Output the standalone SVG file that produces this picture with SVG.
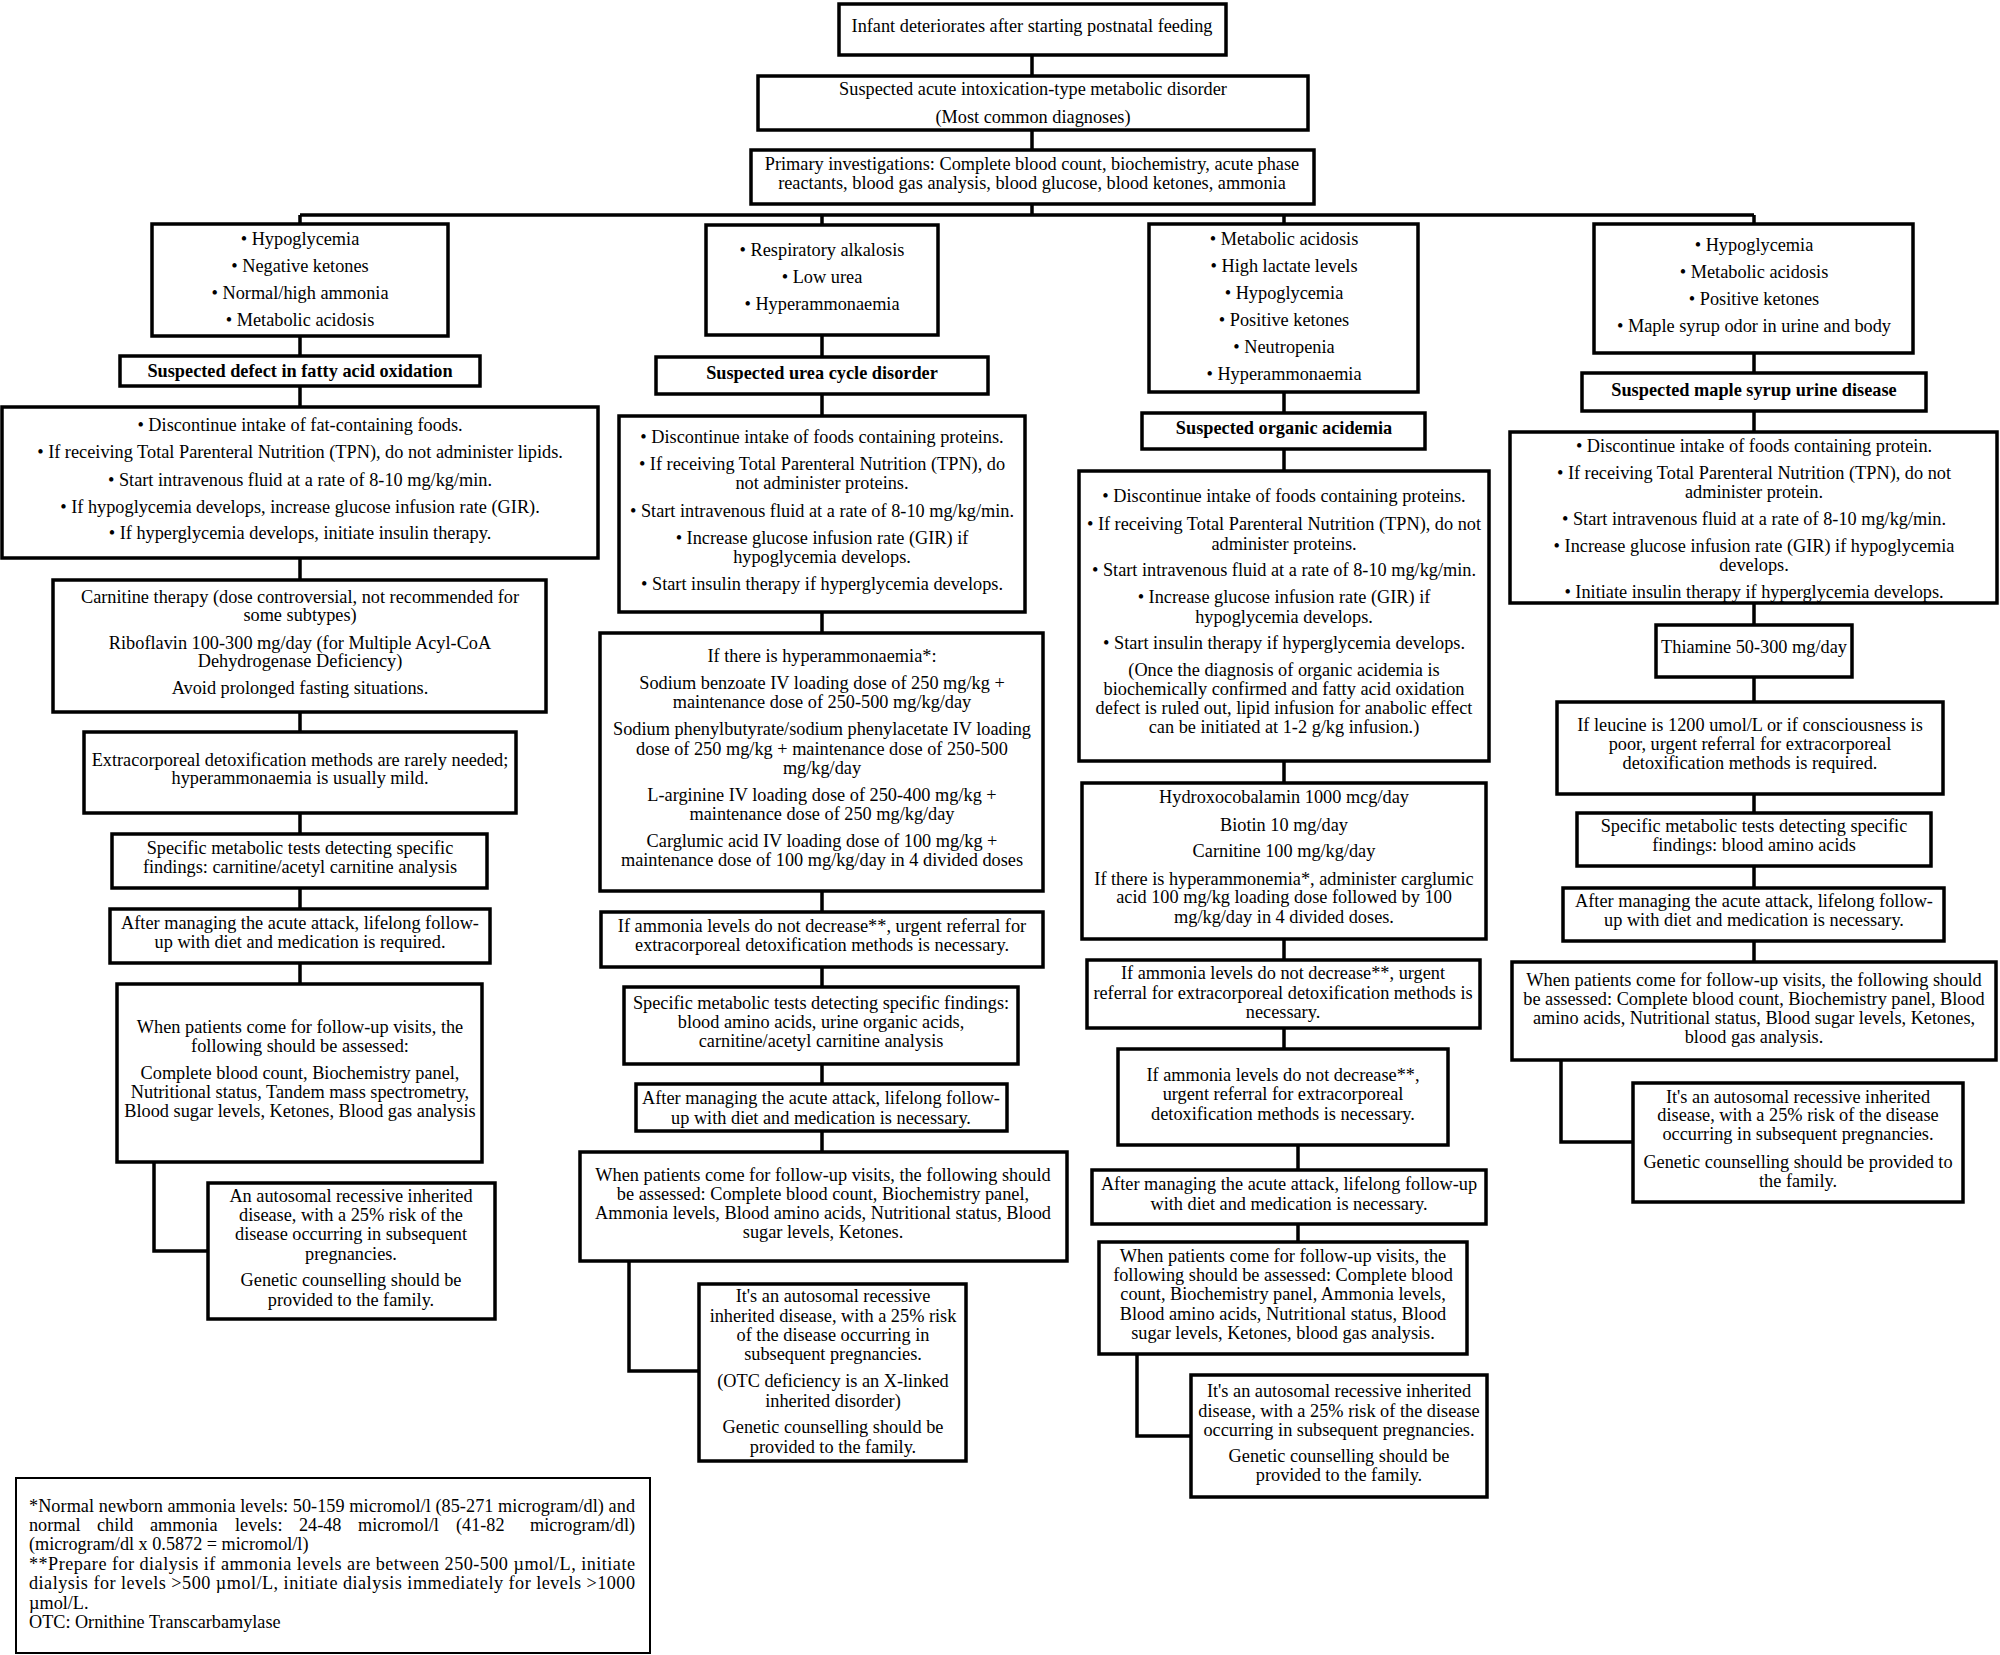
<svg xmlns="http://www.w3.org/2000/svg" width="2000" height="1655" viewBox="0 0 2000 1655">
<style>
.box{fill:#fff;stroke:#000;stroke-width:3.5}
.t{font-family:"Liberation Serif","Times New Roman",serif;font-size:18.3px;text-anchor:middle;fill:#000}
.b{font-weight:bold}
.f{font-family:"Liberation Serif","Times New Roman",serif;font-size:18.2px;text-anchor:start;fill:#000}
.c{fill:none;stroke:#000;stroke-width:3.5}
</style>
<rect x="0" y="0" width="2000" height="1655" fill="#fff"/>
<g id="connectors">
<path class="c" d="M1032 55V76M1032 130V150M1032 204V215M300 215H1754M300 215V224M822 215V225M1284 215V224M1754 215V224"/>
<path class="c" d="M300 336V356M300 386V407M300 558V580M300 712V732M300 813V834M300 888V909M300 963V984M154 1162V1251H208"/>
<path class="c" d="M822 335V357M822 394V416M822 612V633M822 891V912M822 967V987M822 1064V1084M822 1131V1152M629 1261V1371H699"/>
<path class="c" d="M1284 392V413M1284 449V471M1284 761V783M1284 939V960M1284 1028V1049M1298 1145V1170M1298 1224V1242M1137 1354V1436H1191"/>
<path class="c" d="M1754 353V373M1754 411V432M1754 603V625M1754 677V702M1754 794V813M1754 866V888M1754 941V962M1561 1060V1142H1633"/>
</g>
<g id="n-start"><rect class="box" x="839" y="4" width="387" height="51"/><text class="t" x="1032" y="32">Infant deteriorates after starting postnatal feeding</text></g>
<g id="n-suspected"><rect class="box" x="758" y="76" width="550" height="54"/><text class="t"><tspan x="1033" y="95">Suspected acute intoxication-type metabolic disorder</tspan><tspan x="1033" y="123">(Most common diagnoses)</tspan></text></g>
<g id="n-primary"><rect class="box" x="751" y="150" width="563" height="54"/><text class="t"><tspan x="1032" y="170">Primary investigations: Complete blood count, biochemistry, acute phase</tspan><tspan x="1032" y="189">reactants, blood gas analysis, blood glucose, blood ketones, ammonia</tspan></text></g>

<g id="n-fao-symptoms"><rect class="box" x="152" y="224" width="296" height="112"/><text class="t"><tspan x="300" y="245">• Hypoglycemia</tspan><tspan x="300" y="272">• Negative ketones</tspan><tspan x="300" y="299">• Normal/high ammonia</tspan><tspan x="300" y="326">• Metabolic acidosis</tspan></text></g>
<g id="n-fao"><rect class="box" x="120" y="356" width="360" height="30"/><text class="t b" x="300" y="377">Suspected defect in fatty acid oxidation</text></g>
<g id="n-fao-1"><rect class="box" x="2" y="407" width="596" height="151"/><text class="t"><tspan x="300" y="431">• Discontinue intake of fat-containing foods.</tspan><tspan x="300" y="458">• If receiving Total Parenteral Nutrition (TPN), do not administer lipids.</tspan><tspan x="300" y="486">• Start intravenous fluid at a rate of 8-10 mg/kg/min.</tspan><tspan x="300" y="513">• If hypoglycemia develops, increase glucose infusion rate (GIR).</tspan><tspan x="300" y="539">• If hyperglycemia develops, initiate insulin therapy.</tspan></text></g>
<g id="n-fao-2"><rect class="box" x="53" y="580" width="493" height="132"/><text class="t"><tspan x="300" y="603">Carnitine therapy (dose controversial, not recommended for</tspan><tspan x="300" y="621">some subtypes)</tspan><tspan x="300" y="649">Riboflavin 100-300 mg/day (for Multiple Acyl-CoA</tspan><tspan x="300" y="667">Dehydrogenase Deficiency)</tspan><tspan x="300" y="694">Avoid prolonged fasting situations.</tspan></text></g>
<g id="n-fao-3"><rect class="box" x="84" y="732" width="432" height="81"/><text class="t"><tspan x="300" y="766">Extracorporeal detoxification methods are rarely needed;</tspan><tspan x="300" y="784">hyperammonaemia is usually mild.</tspan></text></g>
<g id="n-fao-4"><rect class="box" x="112" y="834" width="375" height="54"/><text class="t"><tspan x="300" y="854">Specific metabolic tests detecting specific</tspan><tspan x="300" y="873">findings: carnitine/acetyl carnitine analysis</tspan></text></g>
<g id="n-fao-5"><rect class="box" x="110" y="909" width="380" height="54"/><text class="t"><tspan x="300" y="929">After managing the acute attack, lifelong follow-</tspan><tspan x="300" y="948">up with diet and medication is required.</tspan></text></g>
<g id="n-fao-6"><rect class="box" x="117" y="984" width="365" height="178"/><text class="t"><tspan x="300" y="1033">When patients come for follow-up visits, the</tspan><tspan x="300" y="1052">following should be assessed:</tspan><tspan x="300" y="1079">Complete blood count, Biochemistry panel,</tspan><tspan x="300" y="1098">Nutritional status, Tandem mass spectrometry,</tspan><tspan x="300" y="1117">Blood sugar levels, Ketones, Blood gas analysis</tspan></text></g>
<g id="n-fao-7"><rect class="box" x="208" y="1183" width="287" height="136"/><text class="t"><tspan x="351" y="1202">An autosomal recessive inherited</tspan><tspan x="351" y="1221">disease, with a 25% risk of the</tspan><tspan x="351" y="1240">disease occurring in subsequent</tspan><tspan x="351" y="1260">pregnancies.</tspan><tspan x="351" y="1286">Genetic counselling should be</tspan><tspan x="351" y="1306">provided to the family.</tspan></text></g>

<g id="n-ucd-symptoms"><rect class="box" x="706" y="225" width="232" height="110"/><text class="t"><tspan x="822" y="256">• Respiratory alkalosis</tspan><tspan x="822" y="283">• Low urea</tspan><tspan x="822" y="310">• Hyperammonaemia</tspan></text></g>
<g id="n-ucd"><rect class="box" x="656" y="357" width="332" height="37"/><text class="t b" x="822" y="379">Suspected urea cycle disorder</text></g>
<g id="n-ucd-1"><rect class="box" x="619" y="416" width="406" height="196"/><text class="t"><tspan x="822" y="443">• Discontinue intake of foods containing proteins.</tspan><tspan x="822" y="470">• If receiving Total Parenteral Nutrition (TPN), do</tspan><tspan x="822" y="489">not administer proteins.</tspan><tspan x="822" y="517">• Start intravenous fluid at a rate of 8-10 mg/kg/min.</tspan><tspan x="822" y="544">• Increase glucose infusion rate (GIR) if</tspan><tspan x="822" y="563">hypoglycemia develops.</tspan><tspan x="822" y="590">• Start insulin therapy if hyperglycemia develops.</tspan></text></g>
<g id="n-ucd-2"><rect class="box" x="600" y="633" width="443" height="258"/><text class="t"><tspan x="822" y="662">If there is hyperammonaemia*:</tspan><tspan x="822" y="689">Sodium benzoate IV loading dose of 250 mg/kg +</tspan><tspan x="822" y="708">maintenance dose of 250-500 mg/kg/day</tspan><tspan x="822" y="735">Sodium phenylbutyrate/sodium phenylacetate IV loading</tspan><tspan x="822" y="755">dose of 250 mg/kg + maintenance dose of 250-500</tspan><tspan x="822" y="774">mg/kg/day</tspan><tspan x="822" y="801">L-arginine IV loading dose of 250-400 mg/kg +</tspan><tspan x="822" y="820">maintenance dose of 250 mg/kg/day</tspan><tspan x="822" y="847">Carglumic acid IV loading dose of 100 mg/kg +</tspan><tspan x="822" y="866">maintenance dose of 100 mg/kg/day in 4 divided doses</tspan></text></g>
<g id="n-ucd-3"><rect class="box" x="601" y="912" width="442" height="55"/><text class="t"><tspan x="822" y="932">If ammonia levels do not decrease**, urgent referral for</tspan><tspan x="822" y="951">extracorporeal detoxification methods is necessary.</tspan></text></g>
<g id="n-ucd-4"><rect class="box" x="624" y="987" width="394" height="77"/><text class="t"><tspan x="821" y="1009">Specific metabolic tests detecting specific findings:</tspan><tspan x="821" y="1028">blood amino acids, urine organic acids,</tspan><tspan x="821" y="1047">carnitine/acetyl carnitine analysis</tspan></text></g>
<g id="n-ucd-5"><rect class="box" x="636" y="1084" width="371" height="47"/><text class="t"><tspan x="821" y="1104">After managing the acute attack, lifelong follow-</tspan><tspan x="821" y="1124">up with diet and medication is necessary.</tspan></text></g>
<g id="n-ucd-6"><rect class="box" x="580" y="1152" width="487" height="109"/><text class="t"><tspan x="823" y="1181">When patients come for follow-up visits, the following should</tspan><tspan x="823" y="1200">be assessed: Complete blood count, Biochemistry panel,</tspan><tspan x="823" y="1219">Ammonia levels, Blood amino acids, Nutritional status, Blood</tspan><tspan x="823" y="1238">sugar levels, Ketones.</tspan></text></g>
<g id="n-ucd-7"><rect class="box" x="699" y="1284" width="267" height="177"/><text class="t"><tspan x="833" y="1302">It's an autosomal recessive</tspan><tspan x="833" y="1322">inherited disease, with a 25% risk</tspan><tspan x="833" y="1341">of the disease occurring in</tspan><tspan x="833" y="1360">subsequent pregnancies.</tspan><tspan x="833" y="1387">(OTC deficiency is an X-linked</tspan><tspan x="833" y="1407">inherited disorder)</tspan><tspan x="833" y="1433">Genetic counselling should be</tspan><tspan x="833" y="1453">provided to the family.</tspan></text></g>

<g id="n-oa-symptoms"><rect class="box" x="1149" y="224" width="269" height="168"/><text class="t"><tspan x="1284" y="245">• Metabolic acidosis</tspan><tspan x="1284" y="272">• High lactate levels</tspan><tspan x="1284" y="299">• Hypoglycemia</tspan><tspan x="1284" y="326">• Positive ketones</tspan><tspan x="1284" y="353">• Neutropenia</tspan><tspan x="1284" y="380">• Hyperammonaemia</tspan></text></g>
<g id="n-oa"><rect class="box" x="1142" y="413" width="283" height="36"/><text class="t b" x="1284" y="434">Suspected organic acidemia</text></g>
<g id="n-oa-1"><rect class="box" x="1079" y="471" width="410" height="290"/><text class="t"><tspan x="1284" y="502">• Discontinue intake of foods containing proteins.</tspan><tspan x="1284" y="530">• If receiving Total Parenteral Nutrition (TPN), do not</tspan><tspan x="1284" y="550">administer proteins.</tspan><tspan x="1284" y="576">• Start intravenous fluid at a rate of 8-10 mg/kg/min.</tspan><tspan x="1284" y="603">• Increase glucose infusion rate (GIR) if</tspan><tspan x="1284" y="623">hypoglycemia develops.</tspan><tspan x="1284" y="649">• Start insulin therapy if hyperglycemia develops.</tspan><tspan x="1284" y="676">(Once the diagnosis of organic acidemia is</tspan><tspan x="1284" y="695">biochemically confirmed and fatty acid oxidation</tspan><tspan x="1284" y="714">defect is ruled out, lipid infusion for anabolic effect</tspan><tspan x="1284" y="733">can be initiated at 1-2 g/kg infusion.)</tspan></text></g>
<g id="n-oa-2"><rect class="box" x="1082" y="783" width="404" height="156"/><text class="t"><tspan x="1284" y="803">Hydroxocobalamin 1000 mcg/day</tspan><tspan x="1284" y="831">Biotin 10 mg/day</tspan><tspan x="1284" y="857">Carnitine 100 mg/kg/day</tspan><tspan x="1284" y="885">If there is hyperammonemia*, administer carglumic</tspan><tspan x="1284" y="903">acid 100 mg/kg loading dose followed by 100</tspan><tspan x="1284" y="923">mg/kg/day in 4 divided doses.</tspan></text></g>
<g id="n-oa-3"><rect class="box" x="1087" y="960" width="393" height="68"/><text class="t"><tspan x="1283" y="979">If ammonia levels do not decrease**, urgent</tspan><tspan x="1283" y="999">referral for extracorporeal detoxification methods is</tspan><tspan x="1283" y="1018">necessary.</tspan></text></g>
<g id="n-oa-4"><rect class="box" x="1118" y="1049" width="330" height="96"/><text class="t"><tspan x="1283" y="1081">If ammonia levels do not decrease**,</tspan><tspan x="1283" y="1100">urgent referral for extracorporeal</tspan><tspan x="1283" y="1120">detoxification methods is necessary.</tspan></text></g>
<g id="n-oa-5"><rect class="box" x="1092" y="1170" width="394" height="54"/><text class="t"><tspan x="1289" y="1190">After managing the acute attack, lifelong follow-up</tspan><tspan x="1289" y="1210">with diet and medication is necessary.</tspan></text></g>
<g id="n-oa-6"><rect class="box" x="1099" y="1242" width="368" height="112"/><text class="t"><tspan x="1283" y="1262">When patients come for follow-up visits, the</tspan><tspan x="1283" y="1281">following should be assessed: Complete blood</tspan><tspan x="1283" y="1300">count, Biochemistry panel, Ammonia levels,</tspan><tspan x="1283" y="1320">Blood amino acids, Nutritional status, Blood</tspan><tspan x="1283" y="1339">sugar levels, Ketones, blood gas analysis.</tspan></text></g>
<g id="n-oa-7"><rect class="box" x="1191" y="1375" width="296" height="122"/><text class="t"><tspan x="1339" y="1397">It's an autosomal recessive inherited</tspan><tspan x="1339" y="1417">disease, with a 25% risk of the disease</tspan><tspan x="1339" y="1436">occurring in subsequent pregnancies.</tspan><tspan x="1339" y="1462">Genetic counselling should be</tspan><tspan x="1339" y="1481">provided to the family.</tspan></text></g>

<g id="n-msud-symptoms"><rect class="box" x="1594" y="224" width="319" height="129"/><text class="t"><tspan x="1754" y="251">• Hypoglycemia</tspan><tspan x="1754" y="278">• Metabolic acidosis</tspan><tspan x="1754" y="305">• Positive ketones</tspan><tspan x="1754" y="332">• Maple syrup odor in urine and body</tspan></text></g>
<g id="n-msud"><rect class="box" x="1582" y="373" width="344" height="38"/><text class="t b" x="1754" y="396">Suspected maple syrup urine disease</text></g>
<g id="n-msud-1"><rect class="box" x="1510" y="432" width="487" height="171"/><text class="t"><tspan x="1754" y="452">• Discontinue intake of foods containing protein.</tspan><tspan x="1754" y="479">• If receiving Total Parenteral Nutrition (TPN), do not</tspan><tspan x="1754" y="498">administer protein.</tspan><tspan x="1754" y="525">• Start intravenous fluid at a rate of 8-10 mg/kg/min.</tspan><tspan x="1754" y="552">• Increase glucose infusion rate (GIR) if hypoglycemia</tspan><tspan x="1754" y="571">develops.</tspan><tspan x="1754" y="598">• Initiate insulin therapy if hyperglycemia develops.</tspan></text></g>
<g id="n-msud-2"><rect class="box" x="1656" y="625" width="196" height="52"/><text class="t" x="1754" y="653">Thiamine 50-300 mg/day</text></g>
<g id="n-msud-3"><rect class="box" x="1557" y="702" width="386" height="92"/><text class="t"><tspan x="1750" y="731">If leucine is 1200 umol/L or if consciousness is</tspan><tspan x="1750" y="750">poor, urgent referral for extracorporeal</tspan><tspan x="1750" y="769">detoxification methods is required.</tspan></text></g>
<g id="n-msud-4"><rect class="box" x="1577" y="813" width="354" height="53"/><text class="t"><tspan x="1754" y="832">Specific metabolic tests detecting specific</tspan><tspan x="1754" y="851">findings: blood amino acids</tspan></text></g>
<g id="n-msud-5"><rect class="box" x="1563" y="888" width="381" height="53"/><text class="t"><tspan x="1754" y="907">After managing the acute attack, lifelong follow-</tspan><tspan x="1754" y="926">up with diet and medication is necessary.</tspan></text></g>
<g id="n-msud-6"><rect class="box" x="1512" y="962" width="484" height="98"/><text class="t"><tspan x="1754" y="986">When patients come for follow-up visits, the following should</tspan><tspan x="1754" y="1005">be assessed: Complete blood count, Biochemistry panel, Blood</tspan><tspan x="1754" y="1024">amino acids, Nutritional status, Blood sugar levels, Ketones,</tspan><tspan x="1754" y="1043">blood gas analysis.</tspan></text></g>
<g id="n-msud-7"><rect class="box" x="1633" y="1083" width="330" height="119"/><text class="t"><tspan x="1798" y="1103">It's an autosomal recessive inherited</tspan><tspan x="1798" y="1121">disease, with a 25% risk of the disease</tspan><tspan x="1798" y="1140">occurring in subsequent pregnancies.</tspan><tspan x="1798" y="1168">Genetic counselling should be provided to</tspan><tspan x="1798" y="1187">the family.</tspan></text></g>

<g id="n-footnote"><rect x="16" y="1478" width="634" height="175" fill="#fff" stroke="#000" stroke-width="2"/>
<text class="f" x="29" y="1512" textLength="606" lengthAdjust="spacing">*Normal newborn ammonia levels: 50-159 micromol/l (85-271 microgram/dl) and</text>
<text class="f" y="1531"><tspan x="29">normal</tspan><tspan x="97">child</tspan><tspan x="150">ammonia</tspan><tspan x="235">levels:</tspan><tspan x="299">24-48</tspan><tspan x="358">micromol/l</tspan><tspan x="456">(41-82</tspan><tspan x="530">microgram/dl)</tspan></text>
<text class="f" x="29" y="1550">(microgram/dl x 0.5872 = micromol/l)</text>
<text class="f" x="29" y="1570" textLength="606" lengthAdjust="spacing">**Prepare for dialysis if ammonia levels are between 250-500 µmol/L, initiate</text>
<text class="f" x="29" y="1589" textLength="606" lengthAdjust="spacing">dialysis for levels &gt;500 µmol/L, initiate dialysis immediately for levels &gt;1000</text>
<text class="f" x="29" y="1609">µmol/L.</text>
<text class="f" x="29" y="1628">OTC: Ornithine Transcarbamylase</text>
</g>
</svg>
